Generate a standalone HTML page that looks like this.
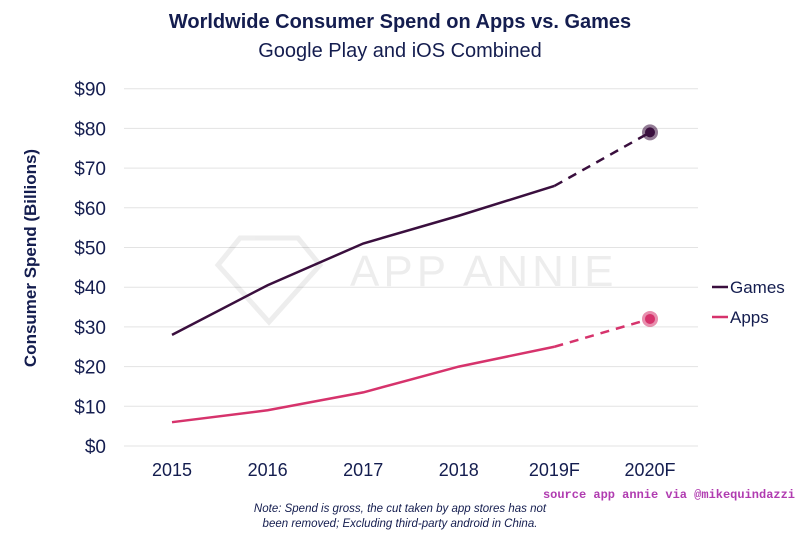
<!DOCTYPE html>
<html><head><meta charset="utf-8"><style>
body{margin:0;background:#fff;width:800px;height:540px;overflow:hidden;font-family:"Liberation Sans",sans-serif}
</style></head><body>
<svg id="chart" width="800" height="540" xmlns="http://www.w3.org/2000/svg">
<text x="400" y="28" text-anchor="middle" font-size="20" font-weight="bold" fill="#141d4f">Worldwide Consumer Spend on Apps vs. Games</text>
<text x="400" y="57" text-anchor="middle" font-size="20" fill="#141d4f">Google Play and iOS Combined</text>
<text transform="translate(36,258) rotate(-90)" text-anchor="middle" font-size="17" font-weight="bold" fill="#141d4f">Consumer Spend (Billions)</text>
<g id="grid"></g>
<g opacity="0.1">
<polygon points="218,265 240,238 298,238 320,265 269,322" fill="none" stroke="#555" stroke-width="5"/>
<text x="350" y="286" font-size="44" fill="#555" letter-spacing="4">APP ANNIE</text>
</g>
<g id="series"></g>
<g font-size="17" fill="#141d4f">
<line x1="712" y1="287" x2="728" y2="287" stroke="#3a0f3e" stroke-width="2.5"/>
<text x="730" y="293">Games</text>
<line x1="712" y1="317" x2="728" y2="317" stroke="#d6336c" stroke-width="2.5"/>
<text x="730" y="323">Apps</text>
</g>
<text x="795" y="498" text-anchor="end" font-size="12" font-weight="bold" fill="#b03bb0" font-family="Liberation Mono, monospace">source app annie via @mikequindazzi</text>
<text x="400" y="512" text-anchor="middle" font-size="11.5" font-style="italic" fill="#141d4f">Note: Spend is gross, the cut taken by app stores has not</text>
<text x="400" y="527" text-anchor="middle" font-size="11.5" font-style="italic" fill="#141d4f">been removed; Excluding third-party android in China.</text>
</svg>
<script>
const categories=["2015","2016","2017","2018","2019F","2020F"];
const gamesValues=[28,40.5,51,58,65.5,79];
const appsValues=[6,9,13.5,20,25,32];
const yTicks=[0,10,20,30,40,50,60,70,80,90];
const NS="http://www.w3.org/2000/svg";
function x(i){return 172+i*95.6;}
function y(v){return 446-v*3.97;}
function mk(t,a,p){const e=document.createElementNS(NS,t);for(const k in a)e.setAttribute(k,a[k]);p.appendChild(e);return e;}
const grid=document.getElementById('grid');
yTicks.forEach(v=>{
 const l=mk('line',{x1:124,x2:698,y1:y(v),y2:y(v),stroke:'#e3e3e3','stroke-width':1},grid);
 
 
 const t=mk('text',{x:106,y:y(v)+7,'text-anchor':'end','font-size':19,fill:'#141d4f'},grid);
 t.textContent='$'+v;
 
 
});
categories.forEach((c,i)=>{
 const t=mk('text',{x:x(i),y:476,'text-anchor':'middle','font-size':18,fill:'#141d4f'},grid);
 t.textContent=c;
 
 
});
const s=document.getElementById('series');
function draw(vals,color,name){
 const n=vals.length;
 const solid=vals.slice(0,n-1).map((v,i)=>x(i)+','+y(v)).join(' ');
 const p=mk('polyline',{points:solid,fill:'none',stroke:color,'stroke-width':2.5},s);
 
 
 const d=mk('line',{x1:x(n-2),y1:y(vals[n-2]),x2:x(n-1),y2:y(vals[n-1]),stroke:color,'stroke-width':2.5,'stroke-dasharray':'9,7'},s);
 
 
 const o=mk('circle',{cx:x(n-1),cy:y(vals[n-1]),r:8,fill:color,opacity:0.55},s);
 
 
 const c=mk('circle',{cx:x(n-1),cy:y(vals[n-1]),r:5,fill:color},s);
 
 
}
draw(gamesValues,'#3a0f3e','games');
draw(appsValues,'#d6336c','apps');
</script>
</body></html>
